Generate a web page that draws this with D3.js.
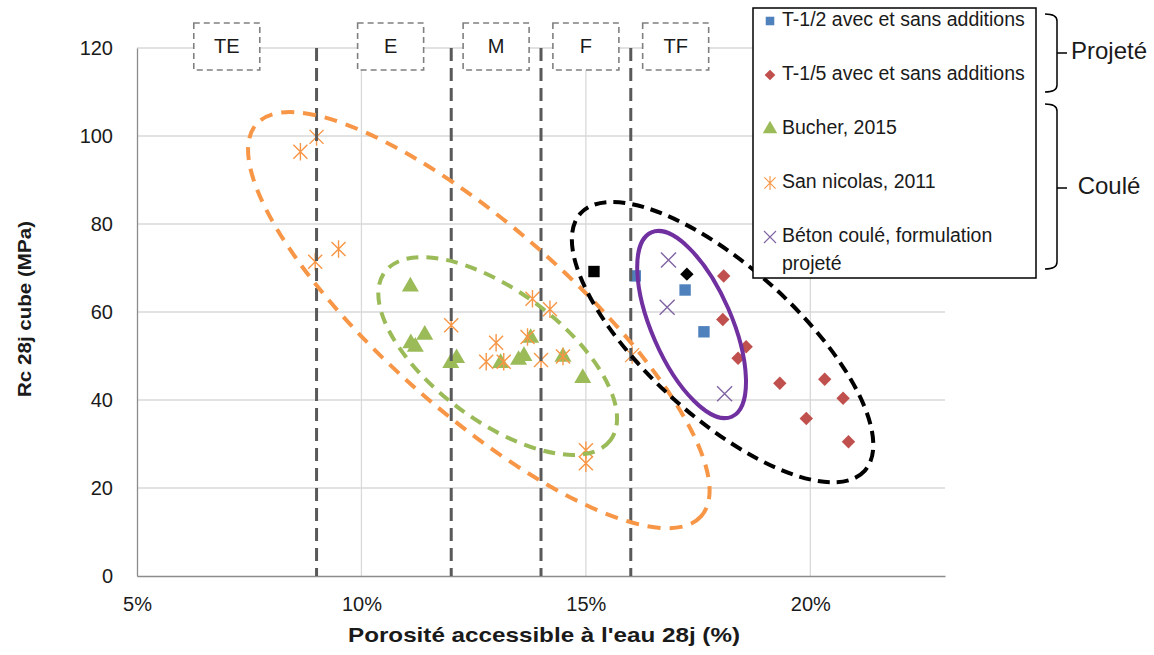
<!DOCTYPE html>
<html>
<head>
<meta charset="utf-8">
<script src="https://cdn.jsdelivr.net/npm/d3@7"></script>
<style>
  body { margin: 0; background: #fff; }
  text { font-family: "Liberation Sans", Arial, sans-serif; fill: #1a1a1a; }
</style>
</head>
<body>
<div id="chart"></div>
<script>
// axis ticks
var xTicks = [5, 10, 15, 20];
var yTicks = [0, 20, 40, 60, 80, 100, 120];

// series: [porosity %, Rc MPa]
var t12 = [[17.21, 65.0], [17.63, 55.5], [16.10, 68.2]];
var t15 = [[18.07, 68.2], [18.05, 58.3], [18.57, 52.1], [18.39, 49.5], [19.32, 43.8],
           [20.32, 44.7], [20.73, 40.4], [19.91, 35.8], [20.85, 30.5]];
var bucher = [[11.09, 65.8], [11.41, 54.8], [11.20, 52.1], [11.10, 52.9], [11.99, 48.4],
              [12.12, 49.5], [13.10, 48.4], [13.50, 49.1], [13.62, 50.0], [13.77, 54.1],
              [14.49, 49.8], [14.93, 45.0]];
var sanNicolas = [[8.64, 96.4], [9.00, 99.8], [8.97, 71.4], [9.49, 74.3], [12.00, 57.0],
                  [12.78, 48.7], [13.00, 53.0], [13.17, 48.7], [13.70, 54.3], [13.81, 63.0],
                  [14.20, 60.6], [14.00, 49.1], [14.49, 49.9], [15.00, 28.6], [15.00, 25.6],
                  [16.03, 50.2]];
var betonCoule = [[16.84, 71.8], [16.81, 61.1], [18.09, 41.4]];
var blackSquare = [[15.18, 69.2]];
var blackDiamond = [[17.25, 68.6]];

// porosity classes
var zoneLimits = [9, 12, 14, 16];
var zoneNames = ['TE', 'E', 'M', 'F', 'TF'];
var zoneCenters = [7, 10.65, 13, 15, 17];

// legend
var legendLabels = ['T-1/2 avec et sans additions', 'T-1/5 avec et sans additions',
                    'Bucher, 2015', 'San nicolas, 2011', 'Béton coulé, formulation|projeté'];
var groupNames = ['Projeté', 'Coulé'];

// annotation ellipses: major axis end points [porosity %, MPa]
var ellipseOrange = [[7.66, 102.7], [17.57, 13.6]];
var ellipseGreen = [[10.52, 69.1], [15.55, 30.9]];
var ellipseBlack = [[14.88, 82.4], [21.21, 23.9]];
var ellipsePurple = [[16.46, 78.1], [18.25, 36.2]];

var W = 1154, H = 655;
var plot = { left: 137, right: 945, top: 48, bottom: 576 };

var svg = d3.select('#chart').append('svg')
    .attr('width', W).attr('height', H);

var x = d3.scaleLinear().domain([5, 23]).range([plot.left, plot.right]);
var y = d3.scaleLinear().domain([0, 120]).range([plot.bottom, plot.top]);

// gridlines
svg.append('g').selectAll('line').data(yTicks.slice(1)).enter().append('line')
    .attr('x1', plot.left).attr('x2', plot.right)
    .attr('y1', d => y(d)).attr('y2', d => y(d))
    .attr('stroke', '#d9d9d9').attr('stroke-width', 1.3);
svg.append('g').selectAll('line').data(xTicks.slice(1)).enter().append('line')
    .attr('x1', d => x(d)).attr('x2', d => x(d))
    .attr('y1', plot.top).attr('y2', plot.bottom)
    .attr('stroke', '#d9d9d9').attr('stroke-width', 1.3);

// axes
var yAxis = svg.append('g')
    .attr('transform', 'translate(' + plot.left + ',0)')
    .call(d3.axisLeft(y).tickValues(yTicks).tickSize(0).tickPadding(24));
var xAxis = svg.append('g')
    .attr('transform', 'translate(0,' + plot.bottom + ')')
    .call(d3.axisBottom(x).tickValues(xTicks).tickSize(0).tickPadding(21).tickFormat(d => d + '%'));
[xAxis, yAxis].forEach(function(a) {
    a.select('.domain').attr('stroke', '#8c8c8c').attr('stroke-width', 1.3);
    a.selectAll('text').style('font-size', '20px').style('font-family', '"Liberation Sans", Arial, sans-serif').attr('fill', '#1a1a1a');
});

svg.append('text')
    .attr('transform', 'translate(26,' + 309 + ') rotate(-90)')
    .attr('text-anchor', 'middle').attr('dominant-baseline', 'middle')
    .attr('textLength', 176).attr('lengthAdjust', 'spacingAndGlyphs')
    .style('font-size', '18px').style('font-weight', 'bold')
    .text('Rc 28j cube (MPa)');
svg.append('text')
    .attr('x', 544).attr('y', 636)
    .attr('text-anchor', 'middle').attr('dominant-baseline', 'middle')
    .attr('textLength', 392).attr('lengthAdjust', 'spacingAndGlyphs')
    .style('font-size', '21px').style('font-weight', 'bold')
    .text("Porosité accessible à l'eau 28j (%)");

// markers
function asterisk(r) {
    return 'M' + (-r) + ',' + (-r) + 'L' + r + ',' + r + 'M' + (-r) + ',' + r + 'L' + r + ',' + (-r) +
        'M0,' + (-r * 1.25) + 'L0,' + (r * 1.25);
}
function cross(r) {
    return 'M' + (-r) + ',' + (-r) + 'L' + r + ',' + r + 'M' + (-r) + ',' + r + 'L' + r + ',' + (-r);
}
var markers = {
    square: { d: d3.symbol(d3.symbolSquare, 130)(), rot: 0, fill: true },
    diamond: { d: d3.symbol(d3.symbolSquare, 90)(), rot: 45, fill: true },
    triangle: { d: d3.symbol(d3.symbolTriangle, 125)(), rot: 0, fill: true },
    asterisk: { d: asterisk(7), rot: 0, fill: false },
    cross: { d: cross(7.5), rot: 0, fill: false }
};
var seriesStyle = [
    { data: t12, marker: 'square', color: '#4f81bd' },
    { data: t15, marker: 'diamond', color: '#c0504d' },
    { data: bucher, marker: 'triangle', color: '#9bbb59' },
    { data: sanNicolas, marker: 'asterisk', color: '#f79646' },
    { data: betonCoule, marker: 'cross', color: '#8064a2' },
    { data: blackSquare, marker: 'square', color: '#000' },
    { data: blackDiamond, marker: 'diamond', color: '#000' }
];

function drawMarker(sel, m, color) {
    var mk = markers[m];
    sel.attr('d', mk.d)
        .attr('fill', mk.fill ? color : 'none')
        .attr('stroke', mk.fill ? 'none' : color)
        .attr('stroke-width', mk.fill ? 0 : 1.4);
}

seriesStyle.forEach(function(s) {
    svg.append('g').selectAll('path').data(s.data).enter().append('path')
        .attr('transform', d => 'translate(' + x(d[0]) + ',' + y(d[1]) + ') rotate(' + markers[s.marker].rot + ')')
        .call(drawMarker, s.marker, s.color);
});

// vertical class limits
svg.append('g').selectAll('line').data(zoneLimits).enter().append('line')
    .attr('x1', d => x(d)).attr('x2', d => x(d))
    .attr('y1', y(120)).attr('y2', y(0))
    .attr('stroke', '#595959').attr('stroke-width', 3)
    .attr('stroke-dasharray', '13,7');

// ellipses
function drawEllipse(tips, halfWidth, color, width, dash) {
    var x1 = x(tips[0][0]), y1 = y(tips[0][1]), x2 = x(tips[1][0]), y2 = y(tips[1][1]);
    var cx = (x1 + x2) / 2, cy = (y1 + y2) / 2;
    var a = Math.hypot(x2 - x1, y2 - y1) / 2;
    var ang = Math.atan2(y2 - y1, x2 - x1) * 180 / Math.PI;
    svg.append('ellipse')
        .attr('cx', cx).attr('cy', cy).attr('rx', a).attr('ry', halfWidth)
        .attr('transform', 'rotate(' + ang + ',' + cx + ',' + cy + ')')
        .attr('fill', 'none').attr('stroke', color).attr('stroke-width', width)
        .attr('stroke-dasharray', dash);
}
drawEllipse(ellipseOrange, 93, '#f79646', 4, '13,9');
drawEllipse(ellipseGreen, 65, '#9bbb59', 4, '12,8');
drawEllipse(ellipseBlack, 75, '#000', 4, '12,7');
drawEllipse(ellipsePurple, 40, '#7030a0', 4, null);

// class label boxes
var zoneG = svg.append('g').selectAll('g').data(zoneNames).enter().append('g')
    .attr('transform', (d, i) => 'translate(' + x(zoneCenters[i]) + ',' + y(120) + ')');
zoneG.append('rect')
    .attr('x', -33).attr('y', -25).attr('width', 66).attr('height', 47)
    .attr('fill', '#fff').attr('stroke', '#808080').attr('stroke-width', 1.6)
    .attr('stroke-dasharray', '6,4');
zoneG.append('text')
    .attr('text-anchor', 'middle').attr('dominant-baseline', 'middle').attr('y', 0)
    .style('font-size', '20px')
    .text(d => d);

// legend
var lg = svg.append('g').attr('transform', 'translate(753,8)');
lg.append('rect').attr('width', 283).attr('height', 270)
    .attr('fill', '#fff').attr('stroke', '#000').attr('stroke-width', 1.5);
var legendMarkers = ['square', 'diamond', 'triangle', 'asterisk', 'cross'];
var legendScale = [0.75, 0.8, 0.85, 0.8, 0.8];
legendLabels.forEach(function(lab, i) {
    var row = lg.append('g').attr('transform', 'translate(0,' + (13 + i * 54) + ')');
    row.append('path')
        .attr('transform', 'translate(17,0) rotate(' + markers[legendMarkers[i]].rot + ') scale(' + legendScale[i] + ')')
        .call(drawMarker, legendMarkers[i], seriesStyle[i].color);
    lab.split('|').forEach(function(line, j) {
        row.append('text').attr('x', 29).attr('y', j * 28)
            .attr('dominant-baseline', 'middle')
            .style('font-size', '19.5px')
            .text(line);
    });
});

// group braces
var braces = [{ top: 14, bottom: 92, mid: 53 }, { top: 104, bottom: 269, mid: 188 }];
braces.forEach(function(b, i) {
    var x0 = 1045, xl = 1057, xt = 1067;
    svg.append('path')
        .attr('d', 'M' + x0 + ',' + b.top + 'Q' + xl + ',' + b.top + ' ' + xl + ',' + (b.top + 7) +
            'L' + xl + ',' + (b.bottom - 7) + 'Q' + xl + ',' + b.bottom + ' ' + x0 + ',' + b.bottom +
            'M' + xl + ',' + b.mid + 'L' + xt + ',' + b.mid)
        .attr('fill', 'none').attr('stroke', '#000').attr('stroke-width', 1.5);
    svg.append('text')
        .attr('x', 1109).attr('y', b.mid)
        .attr('text-anchor', 'middle').attr('dominant-baseline', 'middle')
        .style('font-size', '24px')
        .text(groupNames[i]);
});
</script>
</body>
</html>
